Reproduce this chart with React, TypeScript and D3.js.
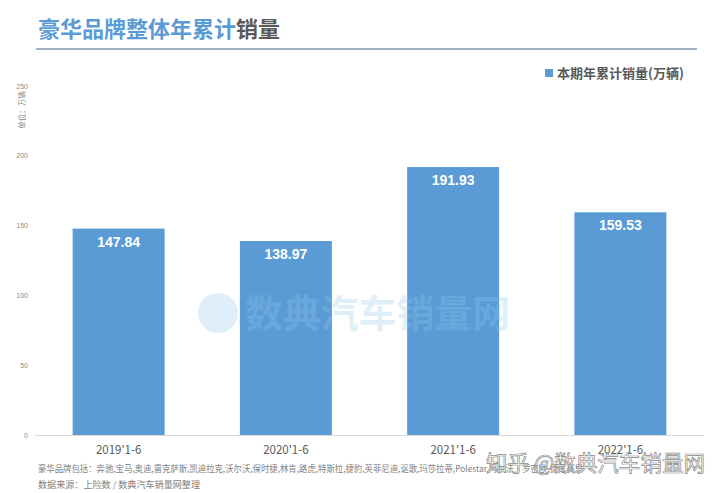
import React from "react";
import * as d3 from "d3";

const categories = ["2019'1-6", "2020'1-6", "2021'1-6", "2022'1-6"];
const values = [147.84, 138.97, 191.93, 159.53];
const yTicks = [0, 50, 100, 150, 200, 250];
const titleBlue = "豪华品牌整体年累计";
const titleGray = "销量";
const legendLabel = "本期年累计销量(万辆)";
const unitLabel = "单位：万辆";
const footer1 = "豪华品牌包括：奔驰,宝马,奥迪,雷克萨斯,凯迪拉克,沃尔沃,保时捷,林肯,路虎,特斯拉,捷豹,英菲尼迪,讴歌,玛莎拉蒂,Polestar,阿尔法·罗密欧,捷尼赛思";
const footer2 = "数据来源：上险数 / 数典汽车销量网整理";
const watermark = "数典汽车销量网";
const corner = "知乎 @数典汽车销量网";

const W = 720, H = 493;
const CJK = "'Noto Sans CJK SC', 'Noto Sans', sans-serif";
const ARIAL = "'Liberation Sans', Arial, sans-serif";

export default function App() {
  const x = d3.scaleBand<string>().domain(categories).range([35, 704]).paddingInner(0.45).paddingOuter(0.225);
  const y = d3.scaleLinear().domain([0, 250]).range([435, 86]);
  const barColor = "#5B9BD5";
  return (
    <svg width={W} height={H} style={{ position: "absolute", left: 0, top: 0, background: "#fff" }}>
      <rect width={W} height={H} fill="#fff" />
      <text x={38} y={37} fontFamily={CJK} fontWeight={700} fontSize={22}>
        <tspan fill="#5B9BD5">{titleBlue}</tspan>
        <tspan fill="#595959">{titleGray}</tspan>
      </text>
      <line x1={36} x2={697} y1={49} y2={49} stroke="#8497B0" strokeWidth={1.5} />

      <rect x={545} y={69} width={8} height={8} fill={barColor} />
      <text x={557} y={78} fontFamily={CJK} fontWeight={700} fontSize={13} fill="#595959">{legendLabel}</text>

      <text transform={`translate(25,110) rotate(-90)`} textAnchor="middle" fontFamily={CJK} fontSize={7.5} fill="#8c8c8c">{unitLabel}</text>

      {yTicks.map(t => (
        <text key={t} x={28} y={y(t) + 2.5} textAnchor="end" fontFamily={ARIAL} fontSize={7} fill="#8c8c8c">{t}</text>
      ))}

      {categories.map((c, i) => (
        <g key={c}>
          <rect x={x(c)} y={y(values[i])} width={x.bandwidth()} height={y(0) - y(values[i])} fill={barColor} />
          <text x={(x(c) as number) + x.bandwidth() / 2} y={y(values[i]) + 18} textAnchor="middle" fontFamily={ARIAL} fontWeight={700} fontSize={14} fill="#fff">{values[i].toFixed(2)}</text>
          <text x={(x(c) as number) + x.bandwidth() / 2} y={454} textAnchor="middle" fontFamily={CJK} fontSize={11.5} fill="#595959">{c}</text>
        </g>
      ))}
      <line x1={35} x2={704} y1={y(0) + 0.5} y2={y(0) + 0.5} stroke="#d9d9d9" strokeWidth={1} />

      <g opacity={0.28}>
        <circle cx={218} cy={313} r={20} fill="rgb(144,200,240)" />
        <text x={245} y={327} fontFamily={CJK} fontWeight={700} fontSize={38} fill="rgb(144,200,240)" textLength={265} lengthAdjust="spacingAndGlyphs">{watermark}</text>
      </g>

      <text x={38} y={472} fontFamily={CJK} fontSize={9} fill="#7f7f7f" textLength={545} lengthAdjust="spacingAndGlyphs">{footer1}</text>
      <text x={38} y={488} fontFamily={CJK} fontSize={9} fill="#7f7f7f" textLength={162} lengthAdjust="spacingAndGlyphs">{footer2}</text>

      <text x={486} y={471} fontFamily={CJK} fontSize={22} fill="rgba(255,255,255,0.6)" stroke="#8a8a8a" strokeWidth={0.7} textLength={219} lengthAdjust="spacingAndGlyphs">{corner}</text>
    </svg>
  );
}
